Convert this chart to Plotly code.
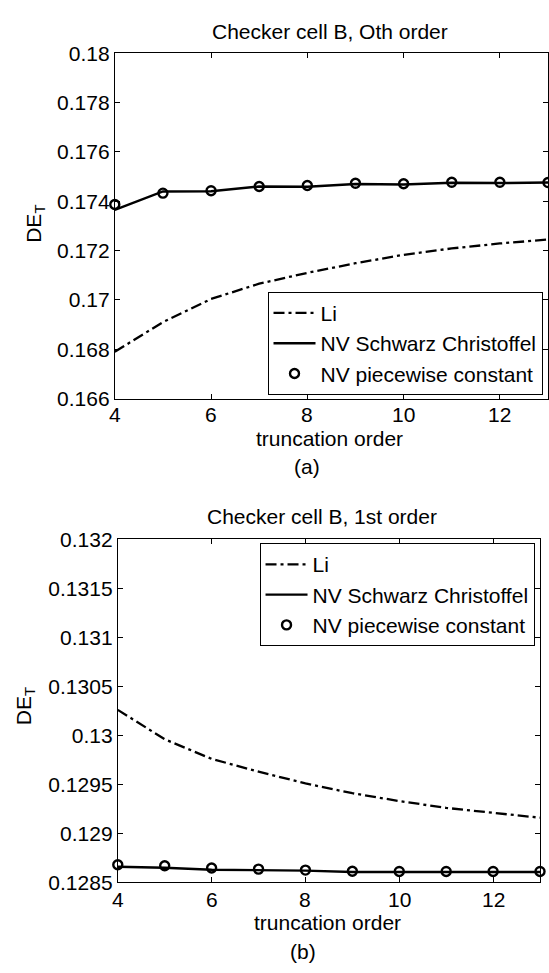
import plotly.graph_objects as go

W, H = 549, 973

# ---------------- data ----------------
orders = [4, 5, 6, 7, 8, 9, 10, 11, 12, 13]

a_li = [0.16790, 0.16910, 0.17004, 0.17066, 0.17110, 0.17149, 0.17183, 0.17209, 0.17229, 0.17245]
a_sc = [0.17365, 0.17440, 0.17441, 0.17460, 0.17459, 0.17470, 0.17468, 0.17475, 0.17474, 0.17476]
a_pc = [0.17387, 0.17433, 0.17443, 0.17460, 0.17464, 0.17473, 0.17471, 0.17477, 0.17477, 0.17476]

b_li = [0.13026, 0.12996, 0.12976, 0.12963, 0.12951, 0.12941, 0.12933, 0.12926, 0.12921, 0.12916]
b_sc = [0.12866, 0.12865, 0.12863, 0.128625, 0.12862, 0.128607, 0.128607, 0.128607, 0.128607, 0.128607]
b_pc = [0.12868, 0.12867, 0.128647, 0.128636, 0.128626, 0.128614, 0.128612, 0.128612, 0.128612, 0.128612]

x_ticks = [4, 6, 8, 10, 12]
x_labels = ["4", "6", "8", "10", "12"]
a_yticks = [0.166, 0.168, 0.170, 0.172, 0.174, 0.176, 0.178, 0.180]
a_ylabels = ["0.166", "0.168", "0.17", "0.172", "0.174", "0.176", "0.178", "0.18"]
b_yticks = [0.1285, 0.1290, 0.1295, 0.1300, 0.1305, 0.1310, 0.1315, 0.1320]
b_ylabels = ["0.1285", "0.129", "0.1295", "0.13", "0.1305", "0.131", "0.1315", "0.132"]

names = ["Li", "NV Schwarz Christoffel", "NV piecewise constant"]

FONT = "Liberation Sans, Arial, Helvetica, sans-serif"
FS = 21
DASHDOT = "11px,4px,3px,4px"


def px_x(p):
    return p / W


def px_y(p):
    return 1 - p / H


fig = go.Figure()

for (li, sc, pc, xa, ya, lg) in [(a_li, a_sc, a_pc, "x", "y", "legend"),
                                 (b_li, b_sc, b_pc, "x2", "y2", "legend2")]:
    fig.add_trace(go.Scatter(x=orders, y=li, mode="lines", name=names[0],
                             line=dict(color="black", width=2.3, dash=DASHDOT),
                             xaxis=xa, yaxis=ya, legend=lg, cliponaxis=False))
    fig.add_trace(go.Scatter(x=orders, y=sc, mode="lines", name=names[1],
                             line=dict(color="black", width=2.4),
                             xaxis=xa, yaxis=ya, legend=lg, cliponaxis=False))
    fig.add_trace(go.Scatter(x=orders, y=pc, mode="markers", name=names[2],
                             marker=dict(symbol="circle-open", size=9, color="black",
                                         line=dict(width=2.4, color="black")),
                             xaxis=xa, yaxis=ya, legend=lg, cliponaxis=False))

axis_common = dict(showline=True, linecolor="black", linewidth=1, mirror="ticks",
                   ticks="inside", ticklen=5, tickcolor="black", tickwidth=1,
                   showgrid=False, zeroline=False,
                   tickfont=dict(family=FONT, size=FS, color="black"))

fig.update_layout(
    width=W, height=H,
    margin=dict(l=0, r=0, t=0, b=0),
    paper_bgcolor="white", plot_bgcolor="white",
    font=dict(family=FONT, size=FS, color="black"),
    xaxis=dict(domain=[px_x(115), 1.0], range=[4, 13], tickvals=x_ticks,
               showticklabels=False, anchor="y", **axis_common),
    yaxis=dict(domain=[px_y(396), px_y(42.3)], range=[0.166, 0.180],
               tickvals=a_yticks, ticktext=a_ylabels, anchor="x", **axis_common),
    xaxis2=dict(domain=[px_x(118), px_x(541)], range=[4, 13], tickvals=x_ticks,
                showticklabels=False, anchor="y2", **axis_common),
    yaxis2=dict(domain=[px_y(891.5), px_y(540)], range=[0.1285, 0.1320],
                tickvals=b_yticks, ticktext=b_ylabels, anchor="x2", **axis_common),
    legend=dict(x=px_x(543.5), y=px_y(392), xanchor="right", yanchor="bottom",
                bgcolor="white", bordercolor="black", borderwidth=1,
                font=dict(family=FONT, size=FS, color="black"),
                itemwidth=42, tracegroupgap=0),
    legend2=dict(x=px_x(535.5), y=px_y(544), xanchor="right", yanchor="top",
                 bgcolor="white", bordercolor="black", borderwidth=1,
                 font=dict(family=FONT, size=FS, color="black"),
                 itemwidth=42, tracegroupgap=0),
)

# x tick labels placed on the data scale, just under each axis
for xref, ypix in [("x", 412), ("x2", 909)]:
    for v, lab in zip(x_ticks, x_labels):
        fig.add_annotation(text=lab, x=v, xref=xref, y=px_y(ypix), yref="paper",
                           xanchor="center", yanchor="middle", showarrow=False,
                           font=dict(family=FONT, size=FS, color="black"))

ann = [
    ("Checker cell B, Oth order", 331, 20, 0),
    ("truncation order", 330, 437, 0),
    ("(a)", 308, 466, 0),
    ("Checker cell B, 1st order", 323, 517, 0),
    ("truncation order", 328, 933, 0),
    ("(b)", 304, 962, 0),
    ("DE<sub>T</sub>", 35, 217, -90),
    ("DE<sub>T</sub>", 25, 711, -90),
]
for text, ax, ay, ang in ann:
    fig.add_annotation(text=text, x=px_x(ax), y=px_y(ay), xref="paper", yref="paper",
                       xanchor="center", yanchor="middle", showarrow=False,
                       textangle=ang, font=dict(family=FONT, size=FS, color="black"))

fig.write_html("out.html")
